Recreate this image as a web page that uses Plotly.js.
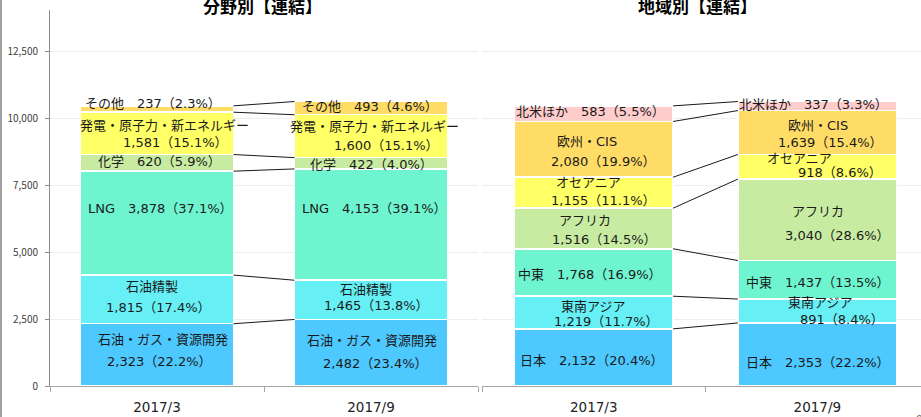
<!DOCTYPE html>
<html><head><meta charset="utf-8">
<script src="https://cdn.plot.ly/plotly-3.0.1.min.js"></script>
<style>html,body{margin:0;padding:0;background:#fff}#chart{width:921px;height:417px}</style>
</head><body><div id="chart"></div>
<script>
// ---- data ----
const categories = ['2017/3', '2017/9'];

const fieldNames = ['石油・ガス・資源開発', '石油精製', 'LNG', '化学', '発電・原子力・新エネルギー', 'その他'];
const field_2017_3 = [2323, 1815, 3878, 620, 1581, 237];
const field_2017_9 = [2482, 1465, 4153, 422, 1600, 493];
const fieldPct_2017_3 = [22.2, 17.4, 37.1, 5.9, 15.1, 2.3];
const fieldPct_2017_9 = [23.4, 13.8, 39.1, 4.0, 15.1, 4.6];

const regionNames = ['日本', '東南アジア', '中東', 'アフリカ', 'オセアニア', '欧州・CIS', '北米ほか'];
const region_2017_3 = [2132, 1219, 1768, 1516, 1155, 2080, 583];
const region_2017_9 = [2353, 891, 1437, 3040, 918, 1639, 337];
const regionPct_2017_3 = [20.4, 11.7, 16.9, 14.5, 11.1, 19.9, 5.5];
const regionPct_2017_9 = [22.2, 8.4, 13.5, 28.6, 8.6, 15.4, 3.3];

const yTicks = [0, 2500, 5000, 7500, 10000, 12500];

// ---- styles ----
const W = 921, H = 417;
const FONT = '"Noto Sans CJK JP", "Noto Sans", sans-serif';
const LFONT = '"DejaVu Sans", "Noto Sans CJK JP", sans-serif';
const fieldColors = ['#4dc9ff', '#66f0f6', '#6ef5cf', '#c8eba2', '#ffff66', '#ffdc66'];
const regionColors = ['#4dc9ff', '#66f0f6', '#6ef5cf', '#c8eba2', '#ffff66', '#ffdc66', '#ffcccc'];

// label offsets (pixels, from segment centre): single line [dx, dy]; two lines [nameDx, nameDy, valDx, valDy]
const fieldLabelPos = [
  [[5.5, -15, 2.5, 7], [-5.5, -12.7, 1.5, 7.6], [3.5, -15], [2.5, -1], [7, -7.4, 18.5, 9.3], [-4.5, -6]],
  [[0.5, -11.8, 4.5, 11.2], [-5.5, -9.9, 5.5, 5.8], [3.5, -16.5], [0.5, 1], [3.5, -10, 15.5, 9], [-1.5, -1.3]]
];
const regionLabelPos = [
  [[-1.5, 2.6], [-0.5, -6.5, 12.5, 9.2], [-3.5, 1.5], [-8.5, -7.8, 10.5, 11.5], [-5.5, -10, 9.5, 8], [-7, -7.7, 9.5, 12.3], [-3.5, -2]],
  [[1, 8.4], [3, -8.7, 25, 8], [1, 2.5], [1, -8.1, 20, 15.2], [-18, -8.5, 23, 5.9], [1, -7.5, 13, 10.2], [-4, -1.7]]
];

const fmt = v => v.toLocaleString('en-US');
const cum = arr => { const c = [0]; arr.forEach(v => c.push(c[c.length - 1] + v)); return c; };

const traces = [];
const annotations = [];

function panel(names, series, pcts, colors, labelPos, xa, ya, barW) {
  const xref = xa === 'x' ? 'x' : 'x2';
  const yref = ya === 'y' ? 'y' : 'y2';
  names.forEach((n, i) => {
    traces.push({
      type: 'bar', x: [0, 1], y: [series[0][i], series[1][i]], width: barW,
      xaxis: xa, yaxis: ya, name: n, showlegend: false, hoverinfo: 'skip',
      marker: {color: colors[i], line: {color: '#ffffff', width: 1.5}}
    });
  });
  const cums = series.map(cum);
  // connectors between the tops of matching segments
  names.forEach((n, i) => {
    traces.push({
      type: 'scatter', mode: 'lines', x: [0 + barW / 2, 1 - barW / 2],
      y: [cums[0][i + 1], cums[1][i + 1]], xaxis: xa, yaxis: ya,
      line: {color: '#1a1a1a', width: 1}, showlegend: false, hoverinfo: 'skip'
    });
  });
  // labels
  series.forEach((s, c) => {
    names.forEach((n, i) => {
      const mid = (cums[c][i] + cums[c][i + 1]) / 2;
      const p = labelPos[c][i];
      const val = fmt(s[i]) + '（' + pcts[c][i].toFixed(1) + '%）';
      const base = {xref, yref, x: c, y: mid, showarrow: false,
        font: {family: LFONT, size: 13, color: '#1a1a1a'}, xanchor: 'center', yanchor: 'middle'};
      if (p.length === 2) {
        annotations.push(Object.assign({}, base, {text: n + '　' + val, xshift: p[0], yshift: -p[1]}));
      } else {
        annotations.push(Object.assign({}, base, {text: n, xshift: p[0], yshift: -p[1]}));
        annotations.push(Object.assign({}, base, {text: val, xshift: p[2], yshift: -p[3]}));
      }
    });
  });
}

panel(fieldNames, [field_2017_3, field_2017_9], [fieldPct_2017_3, fieldPct_2017_9], fieldColors, fieldLabelPos, 'x', 'y', 0.715);
panel(regionNames, [region_2017_3, region_2017_9], [regionPct_2017_3, regionPct_2017_9], regionColors, regionLabelPos, 'x2', 'y2', 0.71);

annotations.push({xref: 'paper', yref: 'paper', x: 262 / W, y: (H - 5) / H, text: '<b>分野別【連結】</b>',
  showarrow: false, xanchor: 'center', yanchor: 'middle', font: {family: FONT, size: 17, color: '#000'}});
annotations.push({xref: 'paper', yref: 'paper', x: 697 / W, y: (H - 5) / H, text: '<b>地域別【連結】</b>',
  showarrow: false, xanchor: 'center', yanchor: 'middle', font: {family: FONT, size: 17, color: '#000'}});
annotations.push({xref: 'paper', yref: 'paper', x: 914 / W, y: (H - 419) / H, text: '9',
  showarrow: false, xanchor: 'left', yanchor: 'middle', font: {family: FONT, size: 13, color: '#808080'}});

const yDom = [31 / H, 407 / H];
const xCommon = {
  tickvals: [0, 1], ticktext: categories, ticks: '', showline: true, linecolor: '#a6a6a6', linewidth: 1,
  showgrid: false, zeroline: false, tickfont: {family: LFONT, size: 13.5, color: '#222'}, ticklabelstandoff: 9,
  minor: {tickmode: 'array', tickvals: [-0.5, 0.5, 1.5], ticks: 'outside', ticklen: 5, tickcolor: '#a6a6a6', showgrid: false}
};
const layout = {
  width: W, height: H, margin: {l: 0, r: 0, t: 0, b: 0}, paper_bgcolor: '#fff', plot_bgcolor: 'rgba(0,0,0,0)',
  barmode: 'stack', showlegend: false,
  xaxis: Object.assign({}, xCommon, {domain: [50 / W, 478 / W], range: [-0.5, 1.5], anchor: 'y'}),
  xaxis2: Object.assign({}, xCommon, {domain: [482 / W, 1], range: [-0.5, 1.464], anchor: 'y2'}),
  yaxis: {domain: yDom, range: [0, 14030], anchor: 'x', tickmode: 'array', tickvals: yTicks, tickformat: ',',
    showline: true, linecolor: '#8c8c8c', ticks: 'outside', ticklen: 4, tickcolor: '#8c8c8c',
    gridcolor: '#eeeeee', zeroline: false, tickfont: {family: FONT, size: 10, color: '#404040'}, ticklabelstandoff: 5},
  yaxis2: {domain: yDom, range: [0, 14030], anchor: 'x2', tickmode: 'array', tickvals: yTicks, showticklabels: false,
    showline: false, ticks: '', gridcolor: '#eeeeee', zeroline: false},
  annotations: annotations,
  shapes: [{type: 'line', xref: 'paper', yref: 'paper', x0: 1 / W, x1: 1 / W, y0: 0, y1: 1,
    line: {color: '#a0a0a0', width: 2}}]
};
Plotly.newPlot('chart', traces, layout, {staticPlot: true, displayModeBar: false});
</script>
</body></html>
